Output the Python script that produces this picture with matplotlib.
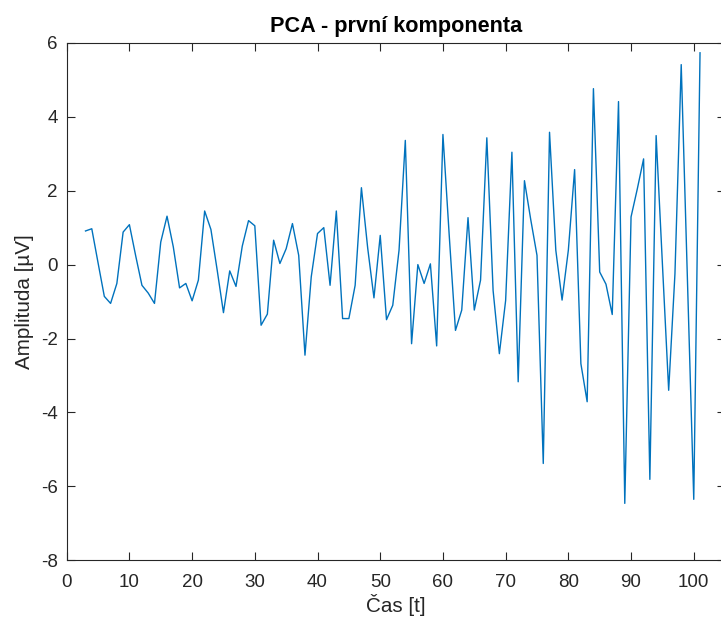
import matplotlib.pyplot as plt
import numpy as np

plt.rcParams['font.family'] = ['Liberation Sans', 'DejaVu Sans']
plt.rcParams['axes.unicode_minus'] = False

# PCA first component, samples 3..101
t = np.arange(3, 102)
amp = [
    0.91, 0.97, 0.05, -0.86, -1.05, -0.51, 0.88, 1.08, 0.24, -0.56,
    -0.77, -1.05, 0.61, 1.31, 0.48, -0.63, -0.51, -0.98, -0.42, 1.45,
    0.95, -0.15, -1.30, -0.17, -0.59, 0.50, 1.19, 1.05, -1.64, -1.34,
    0.66, 0.03, 0.43, 1.11, 0.25, -2.45, -0.33, 0.84, 1.00, -0.56,
    1.45, -1.46, -1.46, -0.56, 2.08, 0.45, -0.90, 0.79, -1.49, -1.10,
    0.39, 3.36, -2.14, 0.00, -0.51, 0.02, -2.20, 3.52, 0.80, -1.78,
    -1.23, 1.27, -1.23, -0.42, 3.43, -0.70, -2.41, -0.97, 3.04, -3.17,
    2.27, 1.22, 0.25, -5.38, 3.58, 0.39, -0.96, 0.39, 2.57, -2.68,
    -3.71, 4.76, -0.20, -0.53, -1.35, 4.41, -6.46, 1.29, 2.05, 2.86,
    -5.81, 3.49, 0.02, -3.40, -0.25, 5.41, -0.46, -6.35, 5.73,
]

fig = plt.figure(figsize=(7.21, 6.25), dpi=100)
# right edge of the box sits just outside the image, like the reference
ax = fig.add_axes([0.0925, 0.1035, 0.9132, 0.828])
ax.plot(t, amp, color='#0072BD', linewidth=1.0)

ax.set_xlim(0, 105)
ax.set_ylim(-8, 6)
ax.set_xticks(np.arange(0, 101, 10))
ax.set_yticks(np.arange(-8, 7, 2))

axis_col = '#262626'
for s in ax.spines.values():
    s.set_color(axis_col)
    s.set_linewidth(0.8)
ax.tick_params(direction='in', top=True, right=True, length=6, width=0.8,
               colors=axis_col, labelsize=13.5)
ax.tick_params(axis='x', pad=10)
ax.tick_params(axis='y', pad=6.5)

ax.set_title('PCA - první komponenta', fontsize=15.6, fontweight='bold', color='black', pad=7.5)
ax.set_xlabel('Čas [t]', fontsize=14.85, color=axis_col, labelpad=2)
ax.set_ylabel('Amplituda [µV]', fontsize=14.85, color=axis_col, labelpad=5)

fig.savefig('out.png', dpi=100)
